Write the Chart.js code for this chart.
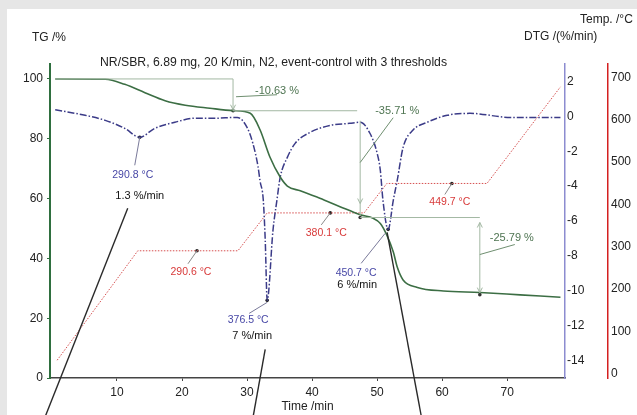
<!DOCTYPE html>
<html>
<head>
<meta charset="utf-8">
<script src="https://cdn.jsdelivr.net/npm/chart.js@4.4.1/dist/chart.umd.min.js"></script>
<style>
html, body { margin: 0; padding: 0; background: #fff; }
#wrap { width: 637px; height: 415px; }
</style>
</head>
<body>
<div id="wrap"><canvas id="tga" width="637" height="415"></canvas></div>
<script>
// TG curve (time /min, mass /%)
var tgTime   = [0.5, 8.2, 11.2, 14.3, 17.4, 20.5, 24.3, 27.85, 30.5, 32.0, 33.5, 35.1, 36.2, 38.2, 41.2, 44.3, 47.4, 49.4, 50.5, 51.5, 52.5, 53.1, 54.0, 56.2, 60.2, 65.8, 72.0, 78.2];
var tgValues = [100, 99.9, 98.2, 95.4, 92.7, 91.2, 90.2, 89.4, 88.5, 83.0, 74.0, 67.2, 64.2, 62.6, 60.1, 57.3, 54.6, 53.4, 51.7, 47.8, 42.1, 37.1, 32.8, 30.3, 29.1, 28.6, 27.8, 27.0];

// DTG curve (%/min)
var dtgTime   = [0.5, 5.1, 8.2, 11.2, 13.5, 15.8, 18.9, 22.0, 24.8, 28.5, 30.0, 30.9, 31.7, 32.0, 32.5, 32.8, 33.1, 34.0, 34.6, 35.1, 36.2, 37.4, 39.7, 42.8, 45.8, 47.4, 48.9, 50.0, 50.5, 50.9, 51.7, 52.5, 53.1, 54.0, 55.5, 57.7, 60.8, 64.3, 70.5, 78.2];
var dtgValues = [0.38, 0.06, -0.23, -0.69, -1.2, -0.69, -0.34, -0.11, -0.11, -0.06, -0.63, -1.55, -2.9, -3.7, -4.8, -7.1, -10.55, -6.5, -4.8, -3.5, -2.35, -1.55, -0.92, -0.52, -0.4, -0.34, -0.97, -2.1, -3.1, -4.8, -6.48, -4.8, -3.67, -1.78, -0.8, -0.34, 0.06, 0.17, -0.06, -0.06];

// sample temperature (°C), 20 K/min with three isothermal holds
var tempTime   = [0.8, 13.2, 28.6, 33.1, 48.0, 51.5, 66.9, 78.2];
var tempValues = [32, 290.6, 290.6, 380.1, 380.1, 449.7, 449.7, 678];

// mass loss steps
var stepTime   = [27.85, 47.4, 65.8];
var stepTG     = [89.37, 53.66, 27.87];
var stepLabels = ["-10.63 %", "-35.71 %", "-25.79 %"];

// DTG peaks
var peakTime  = [13.5, 33.1, 51.7];
var peakDTG   = [-1.2, -10.55, -6.48];
var peakTemps = ["290.8 °C", "376.5 °C", "450.7 °C"];
var peakRates = ["1.3 %/min", "7 %/min", "6 %/min"];

// isothermal holds
var isoTime   = [22.3, 42.8, 61.5];
var isoTemp   = [290.6, 380.1, 449.7];
var isoLabels = ["290.6 °C", "380.1 °C", "449.7 °C"];

// tick labels
var timeTicks = [10, 20, 30, 40, 50, 60, 70];
var tgTicks   = [0, 20, 40, 60, 80, 100];
var dtgTicks  = [2, 0, -2, -4, -6, -8, -10, -12, -14];
var tempTicks = [0, 100, 200, 300, 400, 500, 600, 700];

var titleText = "NR/SBR, 6.89 mg, 20 K/min, N2, event-control with 3 thresholds";
var fam = '"Liberation Sans", Arial, sans-serif';

Chart.defaults.font.family = fam;
Chart.defaults.font.size = 12;
Chart.defaults.color = "#222";

function pts(xs, ys) {
  return xs.map(function (x, i) { return { x: x, y: ys[i] }; });
}
function fixTicks(list) {
  return function (scale) { scale.ticks = list.map(function (v) { return { value: v }; }); };
}

var bg = {
  id: "bg",
  beforeDraw: function (chart) {
    var c = chart.ctx;
    c.save();
    c.fillStyle = "#e6e6e6";
    c.fillRect(0, 0, chart.width, chart.height);
    c.fillStyle = "#fff";
    c.fillRect(7, 9, chart.width - 7, chart.height - 9);
    c.restore();
  }
};

var notes = {
  id: "notes",
  afterDraw: function (chart) {
    var c = chart.ctx;
    var sx = chart.scales.x, sy = chart.scales.y, sd = chart.scales.y1, st = chart.scales.y2;
    function X(v) { return sx.getPixelForValue(v); }
    function Y(v) { return sy.getPixelForValue(v); }
    function D(v) { return sd.getPixelForValue(v); }
    function T(v) { return st.getPixelForValue(v); }
    function seg(x1, y1, x2, y2) { c.beginPath(); c.moveTo(x1, y1); c.lineTo(x2, y2); c.stroke(); }
    function head(x, y, dir) {
      c.beginPath(); c.moveTo(x - 2.5, y - 5 * dir); c.lineTo(x, y); c.lineTo(x + 2.5, y - 5 * dir); c.stroke();
    }
    c.save();
    c.textBaseline = "middle";

    // axis titles
    c.fillStyle = "#222";
    c.font = "12px " + fam;
    c.textAlign = "left";
    c.fillText("TG /%", 32, 38);
    c.fillText("DTG /(%/min)", 524, 37);
    c.fillText("Temp. /°C", 580, 20);
    c.textAlign = "center";
    c.fillText("Time /min", (sx.left + sx.right) / 2, 407);

    // title, fitted to its width in the picture
    c.font = "10px " + fam;
    var w = c.measureText(titleText).width;
    c.font = (10 * 347 / w).toFixed(2) + "px " + fam;
    c.textAlign = "left";
    c.fillText(titleText, 100, 63);

    // mass loss steps
    var xa = X(stepTime[0]), xb = X(stepTime[1]), xc = X(stepTime[2]);
    var yTop = Y(tgValues[0]), ya = Y(stepTG[0]), yb = Y(stepTG[1]), yc = Y(stepTG[2]);
    c.strokeStyle = "#a3b8a3";
    c.lineWidth = 1;
    seg(X(tgTime[0]), yTop, xa, yTop);
    seg(xa, yTop, xa, ya); head(xa, ya - 1, 1);
    seg(xa, ya, xb - 3, ya);
    seg(xb, ya + 10, xb, yb - 2); head(xb, yb - 14, 1);
    seg(xb, yb, xc, yb);
    seg(xc, yb + 5, xc, yc - 2); head(xc, yb + 5, -1); head(xc, yc - 2, 1);
    c.strokeStyle = "#6f8f70";
    seg(xa + 3, ya - 14, xa + 44, ya - 16);
    seg(xb, yb - 55, xb + 33, ya + 7);
    seg(xc, yb + 37, xc + 35, yb + 27);
    c.fillStyle = "#4f7552";
    c.font = "11px " + fam;
    c.textAlign = "left";
    c.fillText(stepLabels[0], xa + 22, ya - 20);
    c.fillText(stepLabels[1], xb + 15, ya);
    c.fillText(stepLabels[2], xc + 10, yb + 20);

    // DTG peaks
    var tOff = [[-7, 38], [-19, 20], [-32, 44]];
    var rOff = [[0, 59], [-15, 36], [-31, 56]];
    var lead = [[0, 0, -5, 28], [0, 2, -18, 13], [-3, 4, -27, 34]];
    var call = [[-12, 71, -94, 278], [-2, 49, -14, 116], [-1, 3, 33, 186]];
    c.textAlign = "center";
    for (var i = 0; i < peakTime.length; i++) {
      var px = X(peakTime[i]), py = D(peakDTG[i]);
      c.strokeStyle = "#7a7a9a"; c.lineWidth = 1;
      seg(px + lead[i][0], py + lead[i][1], px + lead[i][2], py + lead[i][3]);
      c.fillStyle = "#4747a6"; c.font = "10.5px " + fam;
      c.fillText(peakTemps[i], px + tOff[i][0], py + tOff[i][1]);
      c.fillStyle = "#111"; c.font = "11px " + fam;
      c.fillText(peakRates[i], px + rOff[i][0], py + rOff[i][1]);
    }

    // isothermal temperatures
    var iOff = [[-6, 21], [-4, 20], [-2, 19]];
    var iLead = [[-9, 13], [-9, 12], [-7, 11]];
    for (var j = 0; j < isoTime.length; j++) {
      var qx = X(isoTime[j]), qy = T(isoTemp[j]);
      c.strokeStyle = "#8a8a8a"; c.lineWidth = 1;
      seg(qx, qy, qx + iLead[j][0], qy + iLead[j][1]);
      c.fillStyle = "#d83a3a"; c.font = "10.5px " + fam;
      c.fillText(isoLabels[j], qx + iOff[j][0], qy + iOff[j][1]);
    }

    // callout lines leaving the chart
    c.strokeStyle = "#2a2a2a";
    c.lineWidth = 1.4;
    for (var k = 0; k < peakTime.length; k++) {
      var cx = X(peakTime[k]), cy = D(peakDTG[k]);
      seg(cx + call[k][0], cy + call[k][1], cx + call[k][2], cy + call[k][3]);
    }
    c.restore();
  }
};

new Chart(document.getElementById("tga"), {
  type: "line",
  data: {
    datasets: [{
      data: pts(tgTime, tgValues),
      yAxisID: "y",
      borderColor: "#3c6e44",
      borderWidth: 1.6,
      pointRadius: 0,
      cubicInterpolationMode: "monotone"
    }, {
      data: pts(dtgTime, dtgValues),
      yAxisID: "y1",
      borderColor: "#3b3b88",
      borderWidth: 1.5,
      borderDash: [7, 2, 1.5, 2],
      pointRadius: 0,
      cubicInterpolationMode: "monotone"
    }, {
      data: pts(tempTime, tempValues),
      yAxisID: "y2",
      borderColor: "#d65050",
      borderWidth: 1,
      borderDash: [1.5, 1.5],
      pointRadius: 0,
      tension: 0
    }, {
      data: pts(stepTime, stepTG),
      yAxisID: "y",
      showLine: false,
      pointRadius: 1.8,
      pointBackgroundColor: "#333",
      pointBorderWidth: 0
    }, {
      data: pts(peakTime, peakDTG),
      yAxisID: "y1",
      showLine: false,
      pointRadius: 1.8,
      pointBackgroundColor: "#222",
      pointBorderWidth: 0
    }, {
      data: pts(isoTime, isoTemp),
      yAxisID: "y2",
      showLine: false,
      pointRadius: 1.8,
      pointBackgroundColor: "#222",
      pointBorderWidth: 0
    }]
  },
  options: {
    responsive: false,
    animation: false,
    layout: { padding: { top: 64, left: 0, right: 0, bottom: 0 } },
    plugins: { legend: { display: false }, tooltip: { enabled: false } },
    scales: {
      x: {
        type: "linear",
        position: "bottom",
        min: -0.3,
        max: 78.9,
        afterBuildTicks: fixTicks(timeTicks),
        afterFit: function (s) { s.height = 37; },
        border: { color: "#444", width: 1.5 },
        grid: { drawOnChartArea: false, tickLength: 3, color: "#444" },
        ticks: { padding: 4, maxRotation: 0, autoSkip: false, color: "#222" }
      },
      y: {
        position: "left",
        min: 0,
        max: 105,
        afterBuildTicks: fixTicks(tgTicks),
        afterFit: function (s) { s.width = 50; },
        border: { color: "#2f6f3f", width: 2 },
        grid: { drawOnChartArea: false, tickLength: 3, color: "#2f6f3f" },
        ticks: { padding: 4, color: "#222" }
      },
      y1: {
        position: "right",
        min: -15,
        max: 3,
        afterBuildTicks: fixTicks(dtgTicks),
        afterFit: function (s) { s.width = 43; },
        border: { color: "#8c8cd0", width: 1.5 },
        grid: { drawOnChartArea: false, drawTicks: false },
        ticks: { padding: 2, color: "#222" }
      },
      y2: {
        position: "right",
        min: -10,
        max: 732,
        afterBuildTicks: fixTicks(tempTicks),
        afterFit: function (s) { s.width = 29; },
        border: { color: "#d42020", width: 1.5 },
        grid: { drawOnChartArea: false, drawTicks: false },
        ticks: { padding: 3, color: "#222" }
      }
    }
  },
  plugins: [bg, notes]
});
</script>
</body>
</html>
